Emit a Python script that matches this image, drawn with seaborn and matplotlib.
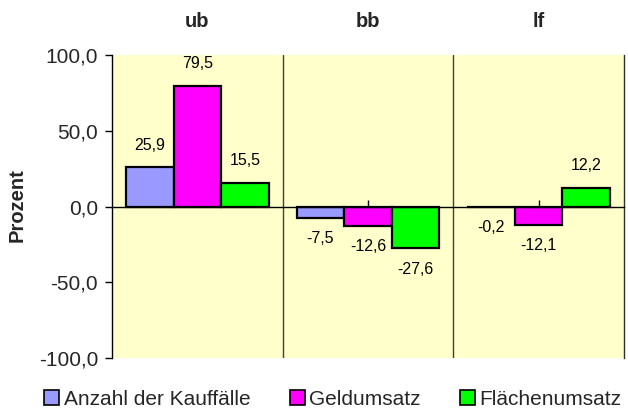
import matplotlib
matplotlib.use("Agg")
import matplotlib.pyplot as plt
import seaborn as sns
import pandas as pd
from matplotlib.patches import Patch
from matplotlib.ticker import FuncFormatter

groups = ["ub", "bb", "lf"]
series = ["Anzahl der Kauffälle", "Geldumsatz", "Flächenumsatz"]
anzahl = [25.9, -7.5, -0.2]
geld = [79.5, -12.6, -12.1]
flaeche = [15.5, -27.6, 12.2]
colors = ["#9999FF", "#FF00FF", "#00FF00"]
yticks = [-100, -50, 0, 50, 100]

rows = []
for s, vals in zip(series, [anzahl, geld, flaeche]):
    for g, v in zip(groups, vals):
        rows.append({"Gruppe": g, "Serie": s, "Wert": v})
df = pd.DataFrame(rows)

sns.set_theme(style="white")
plt.rcParams["font.family"] = ["Liberation Sans", "DejaVu Sans"]

fig = plt.figure(figsize=(6.28, 4.11), dpi=100)
ax = fig.add_axes([112/628, 1-358/411, (624-112)/628, (358-55)/411])
ax.set_facecolor("#FFFFCC")

sns.barplot(data=df, x="Gruppe", y="Wert", hue="Serie", order=groups,
            hue_order=series, palette=colors, width=0.835, edgecolor="black",
            linewidth=1.6, saturation=1, ax=ax, legend=False)

ax.set_ylim(-100, 100)
ax.set_xlim(-0.5, 2.5)
ax.set_yticks(yticks)
ax.yaxis.set_major_formatter(FuncFormatter(lambda v, p: f"{v:.1f}".replace(".", ",")))
ax.tick_params(axis="y", direction="out", length=5, width=1, color="black",
               labelsize=15, pad=5, left=True)
ax.tick_params(axis="x", direction="in", length=5, width=1, color="black",
               labelbottom=False, bottom=True)
ax.set_xlabel("")
ax.set_ylabel("")
fig.text(17/628, 1-205/411, "Prozent", rotation=90, ha="center", va="center",
         fontsize=14.5, fontweight="bold")

ax.spines["top"].set_visible(False)
ax.spines["bottom"].set_position(("data", 0))
ax.spines["bottom"].set_color("black")
ax.spines["bottom"].set_linewidth(1)
ax.spines["left"].set_color("black")
ax.spines["left"].set_linewidth(1)
ax.spines["right"].set_color("#303030")
ax.spines["right"].set_linewidth(1)
for xv in [0.5, 1.5]:
    ax.axvline(xv, color="#404040", lw=1, zorder=0.5)

for container in ax.containers:
    for bar in container:
        h = bar.get_height()
        xc = bar.get_x() + bar.get_width()/2
        off = 16 if h >= 0 else -15
        ax.annotate(f"{h:.1f}".replace(".", ","), (xc, h), xytext=(0, off),
                    textcoords="offset points", ha="center", va="center",
                    fontsize=11.5, color="black")

for i, g in enumerate(groups):
    ax.text(i, 1.109, g, transform=ax.get_xaxis_transform(), ha="center",
            va="center", fontsize=14.5, fontweight="bold")

handles = [Patch(facecolor=c, edgecolor="black", linewidth=1.2) for c in colors]
fig.legend(handles, series, loc="center", bbox_to_anchor=(0.53, 1-399/411),
           ncol=3, frameon=False, fontsize=15, handlelength=0.72, handleheight=0.72,
           handletextpad=0.2, columnspacing=1.9, borderpad=0, borderaxespad=0)

fig.savefig("out.png", dpi=100)
